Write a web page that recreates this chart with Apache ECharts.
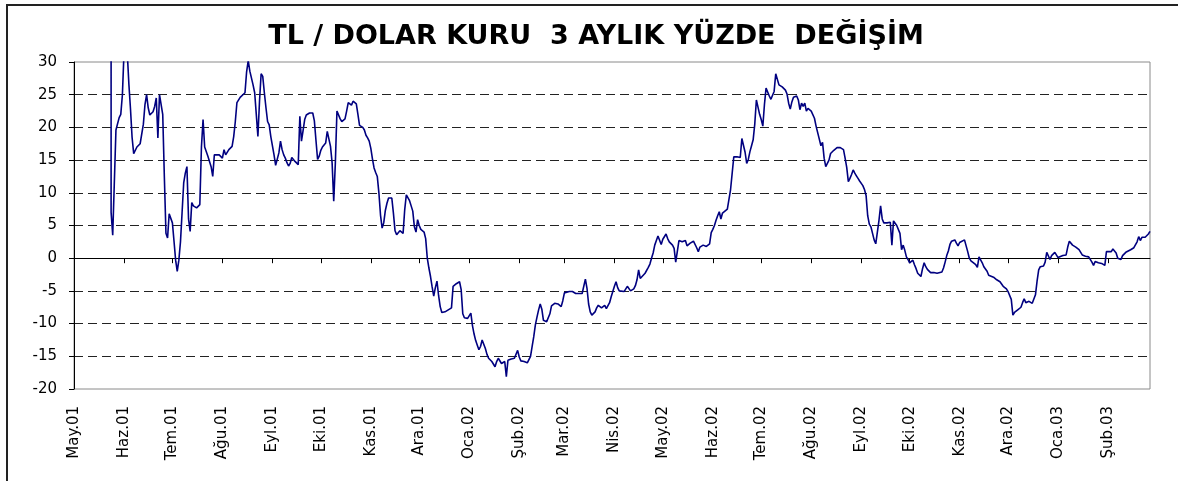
<!DOCTYPE html>
<html>
<head>
<meta charset="utf-8">
<title>TL / Dolar kuru 3 aylık yüzde değişim</title>
<script src="https://cdn.jsdelivr.net/npm/echarts@6/dist/echarts.min.js"></script>
<style>
  html, body { margin: 0; padding: 0; background: #fff; }
  #main { width: 1178px; height: 481px; }
</style>
</head>
<body>
<div id="main"></div>
<script>
// months of the date axis (one tick per month start)
var months = ['2001-05', '2001-06', '2001-07', '2001-08', '2001-09', '2001-10', '2001-11', '2001-12',
  '2002-01', '2002-02', '2002-03', '2002-04', '2002-05', '2002-06', '2002-07', '2002-08',
  '2002-09', '2002-10', '2002-11', '2002-12', '2003-01', '2003-02'];
var monthLabels = ['May.01', 'Haz.01', 'Tem.01', 'Ağu.01', 'Eyl.01', 'Eki.01', 'Kas.01', 'Ara.01',
  'Oca.02', 'Şub.02', 'Mar.02', 'Nis.02', 'May.02', 'Haz.02', 'Tem.02', 'Ağu.02',
  'Eyl.02', 'Eki.02', 'Kas.02', 'Ara.02', 'Oca.03', 'Şub.03'];

// observation days, grouped by month (same order as months)
var days = [
  [24, 24, 25, 27, 29, 30, 31],
  [1, 3, 4, 5, 6, 7, 9, 11, 13, 14, 15, 16, 17, 19, 20, 21, 22, 23, 24, 25, 26, 27, 28, 29, 30],
  [1, 2, 3, 4, 5, 6, 7, 8, 9, 10, 11, 12, 13, 14, 16, 18, 19, 20, 21, 23, 25, 26, 27, 30, 31],
  [1, 2, 3, 5, 7, 8, 9, 10, 12, 15, 16, 17, 18, 20, 21, 22, 23, 24, 25, 26, 27, 28, 29, 30, 31],
  [2, 3, 4, 5, 6, 7, 8, 9, 10, 11, 12, 13, 14, 15, 16, 17, 18, 19, 20, 21, 22, 24, 26, 27, 28, 29, 30],
  [1, 2, 3, 4, 5, 6, 7, 8, 9, 10, 11, 12, 13, 14, 15, 16, 17, 18, 19, 20, 21, 23, 24, 25, 26, 27, 28, 29, 30, 31],
  [1, 2, 3, 4, 5, 6, 7, 8, 9, 10, 11, 12, 13, 14, 15, 16, 17, 19, 20, 21, 22, 23, 24, 25, 26, 27, 28, 29, 30],
  [1, 2, 3, 4, 5, 6, 7, 8, 9, 10, 11, 12, 13, 14, 15, 17, 19, 21, 22, 24, 26, 27, 28, 29, 30, 31],
  [1, 2, 3, 4, 5, 6, 7, 8, 9, 10, 11, 12, 13, 14, 15, 16, 17, 18, 19, 20, 21, 22, 23, 24, 25, 27, 29, 30, 31],
  [1, 2, 4, 6, 7, 8, 9, 10, 11, 12, 13, 14, 15, 16, 17, 18, 19, 20, 21, 23, 25, 27, 28],
  [1, 2, 4, 6, 7, 8, 10, 12, 13, 14, 15, 16, 17, 18, 19, 20, 21, 22, 23, 24, 25, 26, 27, 29, 30, 31],
  [1, 2, 3, 4, 5, 7, 9, 10, 11, 12, 13, 14, 15, 16, 17, 18, 20, 22, 23, 24, 25, 26, 27, 28, 29, 30],
  [1, 2, 3, 4, 5, 6, 7, 8, 9, 10, 11, 12, 13, 14, 15, 16, 17, 18, 20, 21, 22, 23, 24, 26, 28, 29, 30, 31],
  [1, 2, 3, 4, 5, 6, 7, 8, 10, 11, 12, 13, 14, 15, 16, 17, 18, 19, 20, 21, 22, 23, 24, 25, 26, 27, 28, 29, 30],
  [1, 2, 3, 4, 5, 6, 7, 8, 9, 10, 11, 12, 14, 16, 17, 18, 19, 20, 21, 23, 24, 25, 26, 27, 28, 29, 30, 31],
  [1, 2, 3, 4, 5, 6, 7, 8, 9, 10, 11, 12, 13, 14, 15, 17, 18, 19, 20, 21, 22, 23, 24, 25, 26, 27, 28, 29, 30, 31],
  [1, 2, 3, 4, 5, 6, 7, 8, 9, 10, 11, 12, 13, 14, 15, 17, 19, 20, 21, 22, 23, 24, 25, 26, 27, 28, 29, 30],
  [1, 2, 3, 4, 5, 6, 7, 8, 9, 10, 11, 12, 13, 14, 15, 16, 17, 18, 19, 21, 22, 23, 24, 25, 26, 27, 28, 29, 30, 31],
  [1, 2, 4, 5, 6, 7, 8, 9, 11, 12, 13, 14, 15, 16, 17, 18, 19, 20, 22, 23, 24, 25, 26, 27, 28, 29, 30],
  [1, 2, 3, 4, 5, 7, 9, 10, 11, 12, 14, 16, 17, 18, 19, 20, 21, 22, 23, 24, 25, 26, 27, 28, 29, 30, 31],
  [1, 2, 4, 6, 7, 8, 9, 10, 12, 14, 16, 18, 20, 22, 23, 24, 26, 28, 29, 30, 31],
  [1, 3, 4, 5, 6, 7, 9, 10, 12, 15, 17, 18, 19, 20, 21, 22, 24, 25, 26, 27]
];

// 3-month % change of TL/USD, grouped like days
var pctChange = [
  [42, 7, 3.5, 19.6, 21.5, 22.0, 25],
  [31.5, 31.5, 26.7, 22.9, 18.5, 16, 17, 17.5, 20.5, 23.5, 25, 23, 21.9, 22.4, 23.2, 24.5, 18.4, 25, 25, 22, 12.5, 3.8, 3.1, 6.8, 7.0],
  [5.4, 2.6, -0.3, -2.0, -0.3, 2.5, 7.0, 11.5, 13, 14, 6, 4.1, 8.5, 8.0, 7.7, 8.2, 17, 21.2, 17, 15.6, 14.0, 12.5, 15.8, 15.8, 15.8],
  [15.3, 16.6, 15.8, 16.6, 17.1, 18.6, 20.9, 23.8, 24.6, 25.3, 28.5, 30.2, 28.6, 26.5, 25.3, 22, 18.6, 24, 28.2, 27.8, 25.3, 23, 20.9, 20.4, 18.6],
  [15.8, 14.2, 14.5, 16.1, 17.9, 16.6, 15.8, 15.3, 14.6, 14.1, 14.5, 15.4, 15.5, 14.8, 14.5, 14.3, 21.7, 17.9, 19.5, 21.2, 21.9, 22.2, 22.2, 21, 18, 15.1, 15.6],
  [16.5, 17, 16.8, 17.6, 19.4, 19.6, 17.1, 14.6, 8.7, 14.5, 22.5, 22.2, 21.3, 20.9, 20.8, 21.3, 22.5, 23.8, 23.8, 23.4, 24, 23.6, 22, 20.3, 20.4, 20.0, 19.6, 18.8, 18.4, 17.9],
  [16.8, 15.2, 13.8, 13.1, 12.5, 10, 6.6, 4.6, 5.4, 7.3, 8.4, 9.2, 9.4, 9.2, 6.9, 4.2, 3.6, 4.2, 4.3, 3.8, 7.4, 9.7, 9.8, 8.8, 8.0, 7.2, 4.8, 4.0, 5.9],
  [5.0, 4.4, 4.1, 4.0, 3.0, 0, -1.5, -2.8, -4.4, -5.8, -4.5, -3.5, -5.7, -7.4, -8.3, -8.2, -7.9, -7.6, -4.3, -3.9, -3.6, -4.8, -8.5, -9.1, -8.9, -9.2],
  [-8.9, -8.4, -10.3, -11.6, -12.6, -13.3, -14, -13.5, -12.5, -12.5, -13.8, -14.7, -15.3, -15.6, -15.8, -16.1, -16.6, -15.8, -15.3, -15.6, -16.1, -16.3, -15.8, -18.1, -15.6, -15.4, -15.3, -15.2, -14.1],
  [-15.1, -15.7, -15.8, -16.0, -15.8, -15.0, -13.5, -12, -10.2, -9.0, -7.9, -7.0, -7.8, -9.5, -9.8, -9.7, -9.9, -8.5, -7.3, -6.9, -7.0, -7.4, -6.5],
  [-5.3, -5.6, -5.1, -5.1, -4.8, -5.4, -5.4, -5.4, -5.2, -3.2, -4.6, -7.0, -8.2, -8.7, -8.9, -8.2, -7.6, -7.2, -7.5, -7.6, -7.3, -7.2, -7.7, -6.8, -5.9, -5.1],
  [-4.3, -3.6, -4.5, -5.0, -5.1, -5.1, -4.3, -4.4, -5.0, -4.9, -4.7, -4.2, -3.3, -1.8, -3.1, -2.9, -2.3, -1.4, -0.9, 0, 0.8, 2.0, 2.7, 3.4, 3.7, 2.1],
  [2.9, 3.2, 3.7, 3.0, 2.5, 2.3, 2.0, 1.5, -0.6, -0.3, 2.7, 2.6, 2.5, 2.4, 2.7, 1.9, 1.8, 2.3, 2.6, 2.8, 1.6, 1.0, 1.7, 2.0, 1.8, 1.7, 2.2, 3.9],
  [4.4, 5.0, 5.8, 6.5, 7.1, 6.0, 6.9, 7.2, 7.5, 7.8, 10.5, 13, 15.5, 15.6, 15.5, 15.2, 15.4, 18.3, 18.6, 16.2, 14.5, 15.1, 16.3, 17.2, 18.1, 20.5, 24.2, 23.1, 22],
  [21.2, 20.2, 23.5, 26, 26, 24.8, 24.3, 24.2, 25.5, 28.2, 28, 26.5, 26.2, 25.7, 25.1, 23.7, 22.8, 23.9, 24.6, 24.8, 24.2, 22.7, 23.7, 23.2, 23.7, 22.5, 22.9, 22.6],
  [22.5, 22.5, 21.4, 20.2, 19.2, 18.2, 17.2, 17.7, 15.3, 14, 14.0, 15, 16, 15.8, 16.5, 16.9, 17, 16.9, 16.8, 16.6, 15.3, 13.9, 11.7, 12.2, 12.8, 13.5, 13.0, 12.6, 12.2, 11.8],
  [11.5, 11.1, 10.5, 9.6, 6.5, 5.2, 4.8, 3.8, 2.8, 2.2, 2.2, 5.8, 8.0, 6.0, 5.4, 5.4, 5.5, 2.0, 5.7, 5.6, 5.0, 4.7, 3.8, 1.3, 2.0, 1.2, 0.2, -0.2],
  [-0.7, -0.4, -0.3, -1.0, -1.6, -2.3, -2.5, -2.8, -1.6, -0.7, -1.3, -1.7, -2.0, -2.2, -2.5, -2.2, -1.9, -2.3, -2.4, -2.1, -1.5, -0.6, 0.4, 1.1, 2.1, 2.6, 2.8, 2.8, 2.3, 1.9],
  [2.4, 2.7, 2.8, 2.7, 1.0, 0, -0.4, -0.6, -1.0, -1.4, 0.2, 0.3, -0.7, -1.3, -1.6, -2.0, -2.6, -2.8, -2.9, -3.2, -3.3, -3.4, -3.6, -3.9, -4.3, -4.4, -4.7],
  [-5.1, -5.4, -6.3, -8.7, -8.3, -7.9, -7.5, -6.8, -6.2, -6.8, -6.6, -6.9, -7.1, -5.6, -3.5, -1.8, -1.3, -1.2, -1.2, -0.6, 0.9, 1.2, -0.2, 0.4, 0.7, 0.9, 1.2],
  [0.1, 0.4, 0.4, 0.5, 1.7, 2.6, 2.3, 2.0, 1.7, 1.3, 0.5, 0.3, 0.2, -0.6, -1.1, -0.5, -0.7, -0.8, -1.0, -1.1, 1.0],
  [0.8, 1.0, 1.4, 1.2, 0.8, 0, -0.2, 0.4, 0.9, 1.3, 1.6, 1.8, 2.5, 3.3, 2.7, 3.2, 3.2, 3.3, 3.7, 4.1]
];

var titleText = 'TL / DOLAR KURU  3 AYLIK YÜZDE  DEĞİŞİM';

// x axis is "days since the first month start"
var origin = Date.parse(months[0] + '-01T00:00:00Z');
function dayNum(dateStr) {
  return (Date.parse(dateStr + 'T00:00:00Z') - origin) / 86400000;
}
function pad(n) { return n < 10 ? '0' + n : '' + n; }

var tickDays = months.map(function (m) { return dayNum(m + '-01'); });

var points = [];
months.forEach(function (m, i) {
  days[i].forEach(function (d, j) {
    points.push([dayNum(m + '-' + pad(d)), pctChange[i][j]]);
  });
});
var lastDay = points[points.length - 1][0];

var myChart = echarts.init(document.getElementById('main'), null, { renderer: 'canvas' });
myChart.setOption({
  animation: false,
  backgroundColor: '#fff',
  textStyle: { fontFamily: 'DejaVu Sans' },
  grid: {
    left: 74,
    right: 28,
    top: 62,
    bottom: 92,
    show: true,
    borderColor: '#8a8a8a',
    borderWidth: 1,
    backgroundColor: '#fff'
  },
  graphic: [
    {
      // outer chart frame, runs off the right and bottom edges
      type: 'rect',
      silent: true,
      shape: { x: 7, y: 5, width: 1240, height: 540 },
      style: { fill: 'none', stroke: '#222', lineWidth: 2 }
    },
    {
      type: 'text',
      silent: true,
      x: 596,
      y: 37,
      style: {
        text: titleText,
        fontFamily: 'DejaVu Sans',
        fontWeight: 'bold',
        fontSize: 27,
        fill: '#000',
        align: 'center',
        verticalAlign: 'middle'
      }
    }
  ],
  xAxis: [
    {
      // month labels under the plot
      type: 'value',
      min: 0,
      max: lastDay,
      position: 'bottom',
      axisLine: { show: false, onZero: false },
      axisTick: { show: false },
      splitLine: { show: false },
      axisLabel: {
        customValues: tickDays,
        rotate: 90,
        margin: 17,
        fontSize: 15,
        color: '#000',
        fontFamily: 'DejaVu Sans',
        formatter: function (v) {
          var i = tickDays.indexOf(v);
          return i < 0 ? '' : monthLabels[i];
        }
      }
    },
    {
      // the zero line with month ticks
      type: 'value',
      min: 0,
      max: lastDay,
      position: 'bottom',
      axisLine: { show: true, onZero: true, lineStyle: { color: '#000', width: 1 } },
      axisTick: { show: true, customValues: tickDays, length: 5, lineStyle: { color: '#000' } },
      axisLabel: { show: false },
      splitLine: { show: false }
    }
  ],
  yAxis: {
    type: 'value',
    min: -20,
    max: 30,
    interval: 5,
    axisLine: { show: true, onZero: false, lineStyle: { color: '#000', width: 1 } },
    axisTick: { show: true, length: 5, lineStyle: { color: '#000' } },
    axisLabel: { fontSize: 15, color: '#000', margin: 17, fontFamily: 'DejaVu Sans' },
    splitLine: {
      show: true,
      showMinLine: false,
      showMaxLine: false,
      lineStyle: { color: '#222', width: 1, type: [9, 5] }
    }
  },
  series: [
    {
      type: 'line',
      xAxisIndex: 0,
      data: points,
      showSymbol: false,
      symbol: 'none',
      clip: true,
      lineStyle: { color: '#000080', width: 1.6 },
      itemStyle: { color: '#000080' },
      z: 3
    }
  ]
});
</script>
</body>
</html>
